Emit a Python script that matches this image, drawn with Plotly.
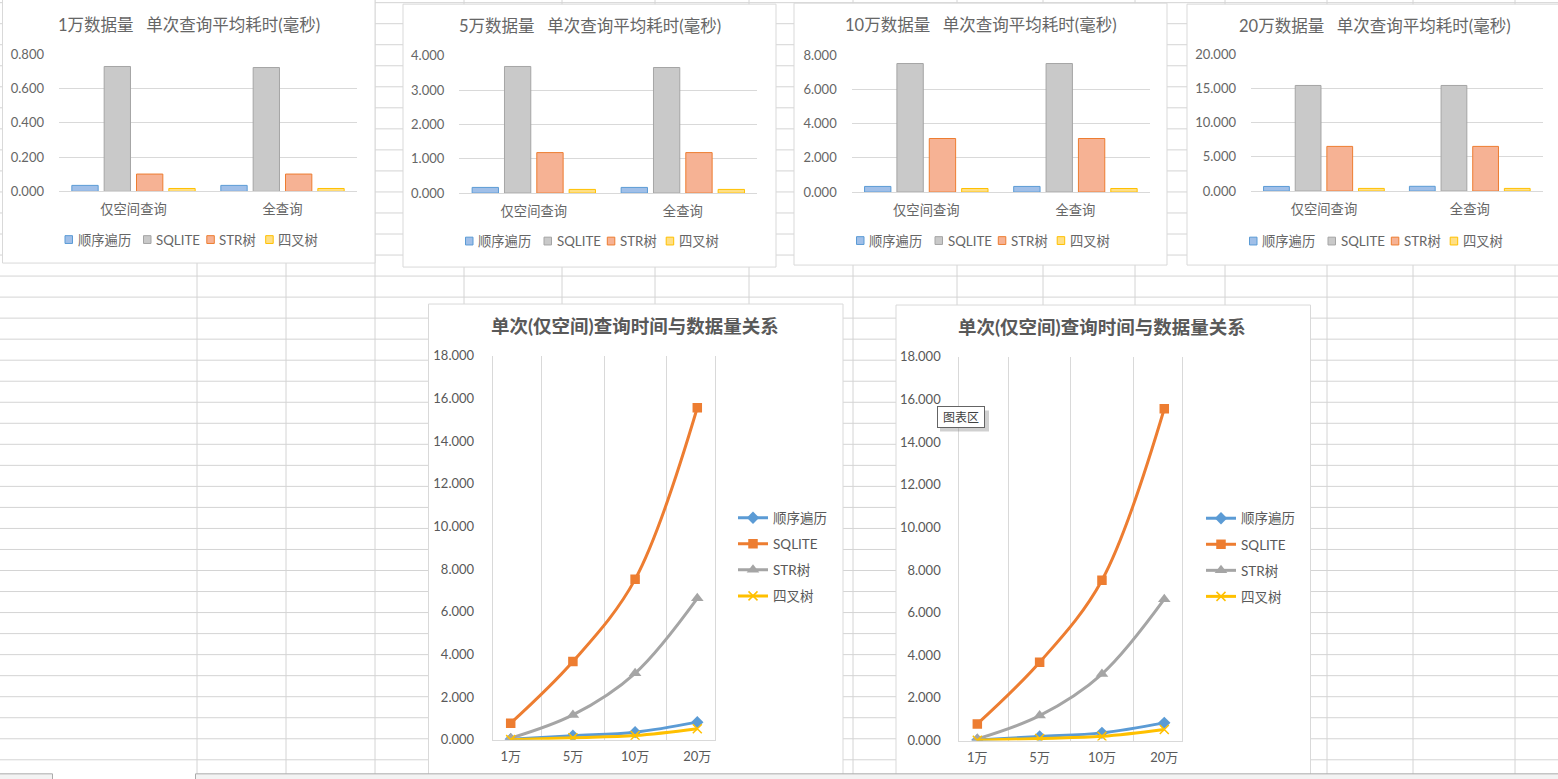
import plotly.graph_objects as go

W, H = 1558, 779
# the photographed picture shows the page with an 8px band above and below,
# squeezed back to 779px; page coordinates are derived from picture coordinates
SQ = 795 / 779
TOP = 8

# ---------------- data ----------------
series_names = ["顺序遍历", "SQLITE", "STR树", "四叉树"]
query_types = ["仅空间查询", "全查询"]
data_sizes = ["1万", "5万", "10万", "20万"]

# bar charts: per series, values for [仅空间查询, 全查询] (ms)
bar_1w_seq = [0.035, 0.035]
bar_1w_sqlite = [0.728, 0.722]
bar_1w_str = [0.101, 0.101]
bar_1w_quad = [0.017, 0.017]

bar_5w_seq = [0.165, 0.165]
bar_5w_sqlite = [3.69, 3.66]
bar_5w_str = [1.18, 1.18]
bar_5w_quad = [0.107, 0.107]

bar_10w_seq = [0.33, 0.33]
bar_10w_sqlite = [7.51, 7.51]
bar_10w_str = [3.13, 3.13]
bar_10w_quad = [0.21, 0.21]

bar_20w_seq = [0.68, 0.70]
bar_20w_sqlite = [15.46, 15.46]
bar_20w_str = [6.54, 6.54]
bar_20w_quad = [0.39, 0.39]

bar_titles = ["1万数据量\u00a0\u00a0\u00a0单次查询平均耗时(毫秒)",
              "5万数据量\u00a0\u00a0\u00a0单次查询平均耗时(毫秒)",
              "10万数据量\u00a0\u00a0\u00a0单次查询平均耗时(毫秒)",
              "20万数据量\u00a0\u00a0\u00a0单次查询平均耗时(毫秒)"]
bar_ymax = [0.8, 4, 8, 20]
bar_dtick = [0.2, 1, 2, 5]

# line charts: per series, values for 1万/5万/10万/20万 (ms)
line_seq = [0.03, 0.19, 0.36, 0.83]
line_sqlite = [0.78, 3.67, 7.52, 15.56]
line_str = [0.08, 1.17, 3.12, 6.63]
line_quad = [0.01, 0.10, 0.20, 0.52]
line_title = "单次(仅空间)查询时间与数据量关系"
line_ymax = 18
line_dtick = 2

bar_sets = [
    [bar_1w_seq, bar_1w_sqlite, bar_1w_str, bar_1w_quad],
    [bar_5w_seq, bar_5w_sqlite, bar_5w_str, bar_5w_quad],
    [bar_10w_seq, bar_10w_sqlite, bar_10w_str, bar_10w_quad],
    [bar_20w_seq, bar_20w_sqlite, bar_20w_str, bar_20w_quad],
]
line_set = [line_seq, line_sqlite, line_str, line_quad]

# ---------------- style / layout ----------------
FONT = "Lato, 'Noto Sans CJK SC', sans-serif"
TXT = "#595959"
TXT_LIGHT = "#666666"
GRID = "#d9d9d9"
SHEET = "#d4d4d4"

bar_fill = ["#a0bfe8", "#c9c9c9", "#f6b294", "#ffdf85"]
bar_edge = ["#5b9bd5", "#a5a5a5", "#ed7d31", "#ffc000"]
line_col = ["#5b9bd5", "#ed7d31", "#a5a5a5", "#ffc000"]
line_sym = ["diamond", "square", "triangle-up", "x-thin"]
line_msize = [9.5, 9.5, 11, 9]


def fx(x):
    return x / W


def fy(y):
    return 1 - (y * SQ - TOP) / H


# target pixel boxes (x0, y0, x1, y1)
bar_boxes = [(2.5, -2, 375, 263), (403, 4, 776, 267), (794, 3, 1167, 265), (1187, 4, 1562, 265)]
bar_plots = [(59, 54, 357, 191.3), (459.3, 55.7, 757.3, 193), (851.7, 55, 1150, 192), (1251, 54.3, 1542.7, 191)]
bar_title_y = [25, 26, 25, 26]
bar_legend_y = [239.5, 241, 240.5, 241]
bar_leg_sq = [62.5, 141, 204.3, 263.2]

line_boxes = [(428.5, 304, 843, 800), (896, 305, 1310.5, 800)]
line_plots = [(492.7, 355.7, 715.3, 740), (959.3, 356.7, 1182.3, 740.7)]
line_title_pos = [(635, 326), (1102, 326.7)]
line_legend_pos = [(733, 502.5), (1201, 503)]

col_x = [197, 286, 375, 464, 562, 655, 749, 853, 957, 1043, 1135, 1225, 1327, 1413, 1515]
row_y0, row_h, n_rows = 2.5, 21.04, 37

fig = go.Figure()
shapes = []
annotations = []

# spreadsheet grid
for x in col_x:
    shapes.append(dict(type="line", xref="paper", yref="paper", x0=fx(x), x1=fx(x),
                       y0=fy(-10), y1=fy(775), line=dict(color=SHEET, width=1), layer="below"))
for k in range(n_rows):
    y = row_y0 + row_h * k
    shapes.append(dict(type="line", xref="paper", yref="paper", x0=fx(-10), x1=fx(1570),
                       y0=fy(y), y1=fy(y), line=dict(color=SHEET, width=1), layer="below"))

# chart boxes
for (x0, y0, x1, y1) in bar_boxes + line_boxes:
    shapes.append(dict(type="rect", xref="paper", yref="paper", x0=fx(x0), x1=fx(x1),
                       y0=fy(y1), y1=fy(y0), fillcolor="white",
                       line=dict(color=GRID, width=1), layer="below"))

# status bar at the bottom
for (x0, x1) in [(-2, 52.5), (195.5, 1562)]:
    shapes.append(dict(type="rect", xref="paper", yref="paper", x0=fx(x0), x1=fx(x1),
                       y0=fy(790), y1=fy(774), fillcolor="#f3f3f3",
                       line=dict(color="#ababab", width=1), layer="below"))

# ---------------- bar charts ----------------
for i in range(4):
    n = i + 1
    xa, ya = f"x{n}", f"y{n}"
    for s in range(4):
        fig.add_trace(go.Bar(
            x=query_types, y=bar_sets[i][s], name=series_names[s],
            xaxis=xa, yaxis=ya, showlegend=False,
            marker=dict(color=bar_fill[s], line=dict(color=bar_edge[s], width=1)),
        ))
    px0, py0, px1, py1 = bar_plots[i]
    fig.update_layout(**{
        f"xaxis{n}": dict(domain=[fx(px0), fx(px1)], anchor=ya, type="category",
                           showgrid=False, showline=True, linecolor=GRID, linewidth=1,
                           ticks="", tickfont=dict(family=FONT, size=13.3, color=TXT_LIGHT),
                           ticklabelstandoff=6, fixedrange=True),
        f"yaxis{n}": dict(domain=[fy(py1), fy(py0)], anchor=xa, range=[0, bar_ymax[i]],
                           dtick=bar_dtick[i], tick0=0, tickformat=".3f",
                           showgrid=True, gridcolor=GRID, gridwidth=1, zeroline=False,
                           showline=False, ticks="",
                           tickfont=dict(family=FONT, size=13, color=TXT_LIGHT),
                           ticklabelstandoff=14, fixedrange=True),
    })
    bx0, by0, bx1, by1 = bar_boxes[i]
    annotations.append(dict(xref="paper", yref="paper", x=fx((bx0 + bx1) / 2), y=fy(bar_title_y[i]),
                            xanchor="center", yanchor="middle", showarrow=False,
                            text=bar_titles[i], font=dict(family=FONT, size=16.5, color=TXT_LIGHT)))
    # legend (squares + labels)
    ly = bar_legend_y[i]
    for s in range(4):
        sx = bx0 + bar_leg_sq[s]
        shapes.append(dict(type="rect", xref="paper", yref="paper", x0=fx(sx), x1=fx(sx + 7.5),
                           y0=fy(ly + 3.9), y1=fy(ly - 3.9), fillcolor=bar_fill[s],
                           line=dict(color=bar_edge[s], width=1), layer="above"))
        annotations.append(dict(xref="paper", yref="paper", x=fx(sx + 10.5), y=fy(ly),
                                xanchor="left", yanchor="middle", showarrow=False,
                                text=series_names[s], font=dict(family=FONT, size=13.3, color=TXT_LIGHT)))

# ---------------- line charts ----------------
for j in range(2):
    n = j + 5
    xa, ya = f"x{n}", f"y{n}"
    leg = "legend" if j == 0 else "legend2"
    for s in range(4):
        fig.add_trace(go.Scatter(
            x=data_sizes, y=line_set[s], name=series_names[s], mode="lines+markers",
            xaxis=xa, yaxis=ya, legend=leg, legendgroup=f"g{j}_{s}",
            line=dict(color=line_col[s], width=3, shape="spline", smoothing=1),
            marker=dict(symbol=line_sym[s], size=line_msize[s], color=line_col[s],
                        line=dict(color=line_col[s], width=1.5 if s == 3 else 0)),
        ))
    px0, py0, px1, py1 = line_plots[j]
    fig.update_layout(**{
        f"xaxis{n}": dict(domain=[fx(px0), fx(px1)], anchor=ya, type="category",
                           tickson="boundaries", showgrid=True, gridcolor=GRID, gridwidth=1,
                           showline=True, linecolor=GRID, linewidth=1, ticks="",
                           tickfont=dict(family=FONT, size=13, color=TXT),
                           ticklabelstandoff=5, fixedrange=True),
        f"yaxis{n}": dict(domain=[fy(py1), fy(py0)], anchor=xa, range=[0, line_ymax],
                           dtick=line_dtick, tick0=0, tickformat=".3f",
                           showgrid=False, zeroline=False, showline=True, mirror=True,
                           linecolor=GRID, linewidth=1, ticks="",
                           tickfont=dict(family=FONT, size=13, color=TXT),
                           ticklabelstandoff=15, fixedrange=True),
    })
    tx, ty = line_title_pos[j]
    annotations.append(dict(xref="paper", yref="paper", x=fx(tx), y=fy(ty),
                            xanchor="center", yanchor="middle", showarrow=False,
                            text=line_title,
                            font=dict(family=FONT, size=18.5, color=TXT, weight=700)))
    lx, lyy = line_legend_pos[j]
    fig.update_layout(**{leg: dict(x=fx(lx), y=fy(lyy), xref="paper", yref="paper",
                                   xanchor="left", yanchor="top", orientation="v",
                                   bgcolor="rgba(0,0,0,0)", borderwidth=0,
                                   tracegroupgap=5.5, traceorder="grouped",
                                   font=dict(family=FONT, size=13.5, color=TXT))})

# "图表区" hover tip in the second line chart
shapes.append(dict(type="rect", xref="paper", yref="paper", x0=fx(940), x1=fx(989),
                   y0=fy(431.5), y1=fy(410.5), fillcolor="rgba(120,120,120,0.35)",
                   line=dict(width=0), layer="above"))
annotations.append(dict(xref="paper", yref="paper", x=fx(961), y=fy(417.5),
                        xanchor="center", yanchor="middle", showarrow=False,
                        text="图表区", width=44, height=18, borderpad=1,
                        bordercolor="#646464", borderwidth=1, bgcolor="white",
                        font=dict(family=FONT, size=12, color="#404040")))

fig.update_layout(
    width=W, height=H, autosize=False,
    margin=dict(l=0, r=0, t=0, b=0, pad=0),
    paper_bgcolor="white", plot_bgcolor="rgba(0,0,0,0)",
    barmode="group", bargap=0.132, bargroupgap=0.186,
    shapes=shapes, annotations=annotations,
    font=dict(family=FONT, color=TXT),
    hovermode=False,
)

fig.write_html("out.html", config={"displayModeBar": False, "staticPlot": True},
               post_script="document.body.style.margin='0';document.body.style.overflow='hidden';")
